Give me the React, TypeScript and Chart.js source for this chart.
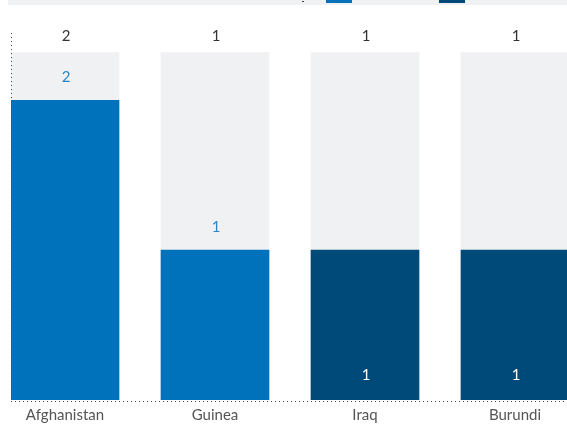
import React, { useEffect, useRef } from "react";
import { Chart, registerables } from "chart.js";

Chart.register(...registerables);

const categories = ["Afghanistan", "Guinea", "Iraq", "Burundi"];
const totals = [2, 1, 1, 1];
const blueSeries = [2, 1, 0, 0];
const darkSeries = [0, 0, 1, 1];
const trackValue = 2.32;
const yMax = 2.45;

const BLUE = "#0072bc";
const DARK = "#004a7a";
const TRACK = "#f0f1f3";
const FONT = "Lato, 'Open Sans', sans-serif";

const labelPlugin = {
  id: "customLabels",
  afterDatasetsDraw(chart: any) {
    const ctx = chart.ctx;
    const area = chart.chartArea;
    const xs = chart.scales.x;
    const ys = chart.scales.y;
    ctx.save();
    ctx.strokeStyle = "#444";
    ctx.lineWidth = 1;
    ctx.setLineDash([1, 3]);
    ctx.beginPath();
    ctx.moveTo(area.left + 0.5, area.top);
    ctx.lineTo(area.left + 0.5, area.bottom);
    ctx.stroke();
    ctx.beginPath();
    ctx.moveTo(area.left, area.bottom + 1.5);
    ctx.lineTo(area.right + 20, area.bottom + 1.5);
    ctx.stroke();
    ctx.setLineDash([]);

    ctx.font = "15px " + FONT;
    ctx.textAlign = "center";
    ctx.textBaseline = "middle";
    categories.forEach((_, i) => {
      const x = xs.getPixelForValue(i) + 1;
      const trackTop = ys.getPixelForValue(trackValue);
      ctx.fillStyle = "#333";
      ctx.fillText(String(totals[i]), x, trackTop - 16);
      if (blueSeries[i] > 0) {
        const top = ys.getPixelForValue(blueSeries[i]);
        ctx.fillStyle = "#2a86c8";
        ctx.fillText(String(blueSeries[i]), x, top - 23);
      }
      if (darkSeries[i] > 0) {
        ctx.fillStyle = "#ffffff";
        ctx.fillText(String(darkSeries[i]), x, area.bottom - 25);
      }
    });
    ctx.restore();
  },
};

export default function App() {
  const ref = useRef<HTMLCanvasElement | null>(null);

  useEffect(() => {
    if (!ref.current) return;
    const toPoints = (arr: number[]) =>
      arr.map((v, i) => ({ x: i, y: v > 0 ? v : null }));
    const chart = new Chart(ref.current, {
      type: "bar",
      data: {
        datasets: [
          {
            label: "Series A",
            data: toPoints(blueSeries) as any,
            backgroundColor: BLUE,
            barThickness: 108,
            grouped: false,
          } as any,
          {
            label: "Series B",
            data: toPoints(darkSeries) as any,
            backgroundColor: DARK,
            barThickness: 108,
            grouped: false,
          } as any,
          {
            label: "Track",
            data: categories.map((_, i) => ({ x: i, y: trackValue })) as any,
            backgroundColor: TRACK,
            barThickness: 108,
            grouped: false,
          } as any,
        ],
      },
      options: {
        animation: false,
        responsive: false,
        maintainAspectRatio: false,
        layout: { padding: { left: 3, right: 9, top: 33, bottom: 0 } },
        plugins: {
          legend: { display: false },
          tooltip: { enabled: false },
        },
        scales: {
          x: {
            type: "linear",
            min: -0.36,
            max: 3.36,
            offset: false,
            grid: { display: false },
            border: { display: false },
            afterBuildTicks: (s: any) => {
              s.ticks = categories.map((_, i) => ({ value: i }));
            },
            ticks: {
              autoSkip: false,
              maxRotation: 0,
              padding: -2,
              color: "#555",
              font: { family: FONT, size: 15 },
              callback: (v: any) => {
                const n = Math.round(Number(v));
                return categories[n] ?? "";
              },
            },
            afterFit: (s: any) => {
              s.height = 25;
            },
          },
          y: {
            display: false,
            min: 0,
            max: yMax,
          },
        },
      },
      plugins: [labelPlugin],
    } as any);
    return () => chart.destroy();
  }, []);

  return (
    <div
      style={{
        position: "absolute",
        left: 8,
        top: 0,
        width: 559,
        height: 425,
        overflow: "hidden",
      }}
    >
      <div
        style={{
          position: "absolute",
          left: 0,
          top: 0,
          width: 559,
          height: 5,
          background: TRACK,
        }}
      />
      <div
        style={{
          position: "absolute",
          left: 294,
          top: 1,
          width: 2,
          height: 1,
          background: "#444",
        }}
      />
      <div
        style={{
          position: "absolute",
          left: 318,
          top: 0,
          width: 26,
          height: 3,
          background: BLUE,
        }}
      />
      <div
        style={{
          position: "absolute",
          left: 431,
          top: 0,
          width: 26,
          height: 3,
          background: DARK,
        }}
      />
      <canvas
        ref={ref}
        width={570}
        height={425}
        style={{ position: "absolute", left: 0, top: 0, width: 570, height: 425 }}
      />
    </div>
  );
}
